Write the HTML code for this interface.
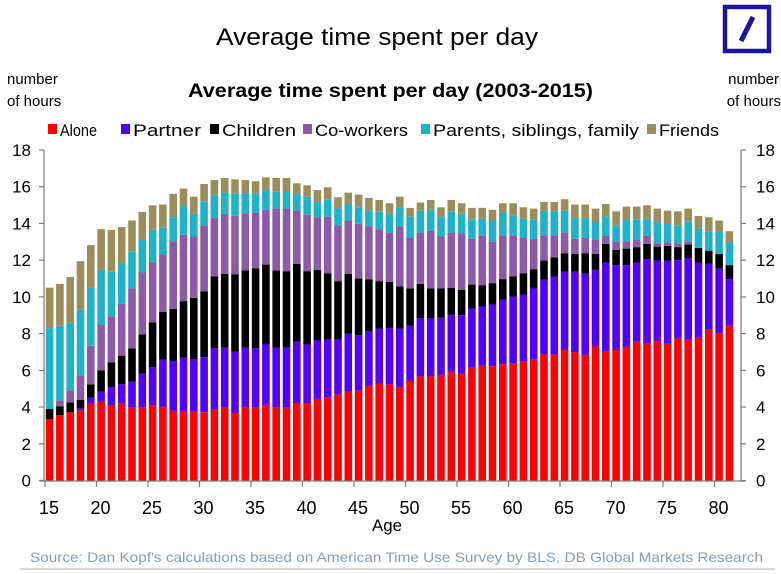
<!DOCTYPE html>
<html><head><meta charset="utf-8"><style>
html,body{margin:0;padding:0;background:#fff;}
svg{display:block;font-family:"Liberation Sans",Arial,sans-serif;}
</style></head><body>
<svg id="chart" width="781" height="574" viewBox="0 0 781 574" xmlns="http://www.w3.org/2000/svg">
<text x="216" y="45" font-size="24" textLength="322" lengthAdjust="spacingAndGlyphs">Average time spent per day</text>
<g>
<rect x="725" y="7" width="44" height="44" fill="none" stroke="#1a149e" stroke-width="4.5"/>
<line x1="741" y1="41" x2="753" y2="17" stroke="#1a149e" stroke-width="5"/>
</g>
<text x="7" y="84" font-size="15"><tspan x="7">number</tspan><tspan x="7" y="106">of hours</tspan></text>
<text x="779" y="84" font-size="15" text-anchor="end"><tspan x="779">number</tspan><tspan x="781" y="106">of hours</tspan></text>
<text x="188" y="97" font-size="19" font-weight="bold" textLength="405" lengthAdjust="spacingAndGlyphs">Average time spent per day (2003-2015)</text>
<g id="legend"></g>
<g id="bars"></g>
<g id="axes"></g>
<text x="372" y="531" font-size="17" textLength="30" lengthAdjust="spacingAndGlyphs">Age</text>
<text x="30" y="562" font-size="14" fill="#8a9db3" textLength="733" lengthAdjust="spacingAndGlyphs">Source: Dan Kopf's calculations based on American Time Use Survey by BLS, DB Global Markets Research</text>
<line x1="20" y1="569" x2="775" y2="569" stroke="#c8ccd0" stroke-width="1.5"/>
</svg>
<script>
const ages = [15,16,17,18,19,20,21,22,23,24,25,26,27,28,29,30,31,32,33,34,35,36,37,38,39,40,41,42,43,44,45,46,47,48,49,50,51,52,53,54,55,56,57,58,59,60,61,62,63,64,65,66,67,68,69,70,71,72,73,74,75,76,77,78,79,80,81];
const alone = [3.35,3.57,3.72,3.82,4.19,4.30,4.11,4.22,4.0,4.0,4.11,4.0,3.79,3.79,3.75,3.72,3.86,3.97,3.68,4.0,3.97,4.11,4.0,3.97,4.22,4.22,4.44,4.55,4.69,4.84,4.91,5.17,5.31,5.24,5.09,5.42,5.67,5.67,5.75,5.93,5.82,6.14,6.25,6.22,6.33,6.36,6.51,6.58,6.87,6.87,7.11,6.98,6.83,7.3,7.05,7.11,7.27,7.56,7.45,7.6,7.49,7.74,7.67,7.78,8.21,8.03,8.43];
const partner = [0,0,0,0.11,0.32,0.54,0.98,1.02,1.38,1.82,2.07,2.58,2.72,2.9,2.87,3.0,3.34,3.26,3.33,3.23,3.23,3.3,3.23,3.3,3.34,3.19,3.19,3.12,2.98,3.15,3.01,2.97,2.97,3.06,3.19,3.01,3.16,3.16,3.12,3.11,3.18,3.23,3.23,3.37,3.51,3.66,3.62,3.88,4.06,4.24,4.26,4.39,4.43,4.17,4.82,4.62,4.46,4.31,4.6,4.38,4.49,4.26,4.45,4.09,3.59,3.52,2.54];
const children = [0.55,0.47,0.54,0.47,0.73,1.16,1.34,1.56,1.82,2.14,2.43,2.61,2.83,3.08,3.33,3.59,3.91,4.03,4.21,4.21,4.35,4.35,4.21,4.13,4.24,3.99,3.84,3.62,3.19,3.27,3.08,2.82,2.58,2.52,2.29,2.03,1.88,1.63,1.59,1.46,1.39,1.3,1.16,1.16,1.13,1.09,1.16,1.05,1.05,1.05,1.01,0.97,1.12,0.87,1.02,0.83,0.9,0.84,0.84,0.76,0.8,0.71,0.73,0.8,0.72,0.79,0.76];
const coworkers = [0,0.33,0.65,1.31,2.1,2.47,2.51,2.82,3.26,3.37,3.26,3.12,3.69,3.62,3.34,3.59,3.19,3.26,3.19,3.12,3.04,2.98,3.37,3.41,2.9,3.08,2.87,3.08,3.04,2.9,2.98,2.87,2.83,2.68,3.26,2.75,2.79,3.15,2.83,3.0,3.08,2.5,2.72,2.28,2.39,2.25,1.92,1.66,1.38,1.2,1.12,0.83,0.83,0.8,0.43,0.47,0.4,0.43,0.43,0.19,0.18,0.22,0.18,0,0,0,0];
const family = [4.4,4.06,3.66,3.59,3.15,3.0,2.43,2.22,2.03,1.77,1.78,1.45,1.31,1.56,1.23,1.31,1.24,1.16,1.23,1.08,1.05,1.08,0.94,0.9,0.9,0.98,0.83,0.95,0.91,0.9,0.9,0.87,0.94,1.02,1.05,1.16,1.2,1.13,1.05,1.16,1.05,1.06,0.9,1.13,1.23,1.09,1.05,1.03,1.34,1.3,1.2,1.13,1.09,0.94,1.05,0.87,1.16,1.09,0.94,1.15,1.01,0.97,1.09,1.05,1.06,1.2,1.23];
const friends = [2.2,2.28,2.51,2.65,2.33,2.22,2.28,1.96,1.67,1.53,1.34,1.27,1.27,0.95,0.94,0.94,0.83,0.8,0.76,0.73,0.66,0.69,0.73,0.77,0.59,0.62,0.65,0.65,0.62,0.62,0.69,0.69,0.65,0.58,0.58,0.48,0.44,0.54,0.54,0.62,0.58,0.62,0.59,0.58,0.51,0.65,0.62,0.61,0.47,0.51,0.62,0.73,0.73,0.73,0.69,0.76,0.73,0.69,0.73,0.73,0.73,0.76,0.69,0.69,0.76,0.62,0.62];
const seriesNames = ["Alone","Partner","Children","Co-workers","Parents, siblings, family","Friends"];
const yTicks = [0,2,4,6,8,10,12,14,16,18];
const xTickLabels = [15,20,25,30,35,40,45,50,55,60,65,70,75,80];

const NS = "http://www.w3.org/2000/svg";
const colors = ["#ff0000","#5200f7","#000000","#8c5aa6","#20b2c8","#9c8d5c"];
const series = [alone, partner, children, coworkers, family, friends];
const keys = ["alone","partner","children","coworkers","family","friends"];
function yScale(v){ return 480.5 - v*18.36; }
function xCenter(a){ return 49.6 + (a-15)*10.3; }
function xTick(a){ return 45 + (a-15)*10.3; }
function mk(tag, attrs, parent){ const e=document.createElementNS(NS,tag); for(const k in attrs) e.setAttribute(k,attrs[k]); parent.appendChild(e); return e; }

const barsG = document.getElementById("bars");
const bw = 7.6;
ages.forEach((a,i)=>{
  let base = 0;
  series.forEach((s,j)=>{
    const v = s[i];
    if (v > 0) {
      const r = mk("rect",{x:xCenter(a)-bw/2, y:yScale(base+v), width:bw, height:yScale(base)-yScale(base+v), fill:colors[j]}, barsG);
      
      
    }
    base += v;
  });
});

const ax = document.getElementById("axes");
const l1 = mk("line",{x1:44,y1:150,x2:44,y2:481,stroke:"#7a7a7a","stroke-width":1.2},ax);


const l2 = mk("line",{x1:741,y1:150,x2:741,y2:481,stroke:"#7a7a7a","stroke-width":1.2},ax);


const l3 = mk("line",{x1:40,y1:481,x2:745,y2:481,stroke:"#7a7a7a","stroke-width":1.2},ax);


yTicks.forEach(t=>{
  const y = yScale(t);
  mk("line",{x1:39,y1:y,x2:44,y2:y,stroke:"#7a7a7a","stroke-width":1.2},ax);
  mk("line",{x1:741,y1:y,x2:746,y2:y,stroke:"#7a7a7a","stroke-width":1.2},ax);
  const tl = mk("text",{x:31,y:y+6,"font-size":17,"text-anchor":"end"},ax);
  tl.textContent = t;
  
  
  const tr = mk("text",{x:756,y:y+6,"font-size":17},ax);
  tr.textContent = t;
  
  
});
xTickLabels.forEach(a=>{
  const x = xTick(a);
  mk("line",{x1:x,y1:481,x2:x,y2:487,stroke:"#7a7a7a","stroke-width":1.2},ax);
  const t = mk("text",{x:x+4,y:514,"font-size":18,"text-anchor":"middle"},ax);
  t.textContent = a;
  
  
});

const lg = document.getElementById("legend");
const legX = [48,121,210,303,421,647];
const legW = [37,68,74,93,206,60];
seriesNames.forEach((n,j)=>{
  const g = mk("g",{},lg);
  
  
  mk("rect",{x:legX[j],y:124,width:9,height:10,fill:colors[j]},g);
  const t = mk("text",{x:legX[j]+12,y:136,"font-size":17,textLength:legW[j],lengthAdjust:"spacingAndGlyphs"},g);
  t.textContent = n;
});
</script>
</body></html>
